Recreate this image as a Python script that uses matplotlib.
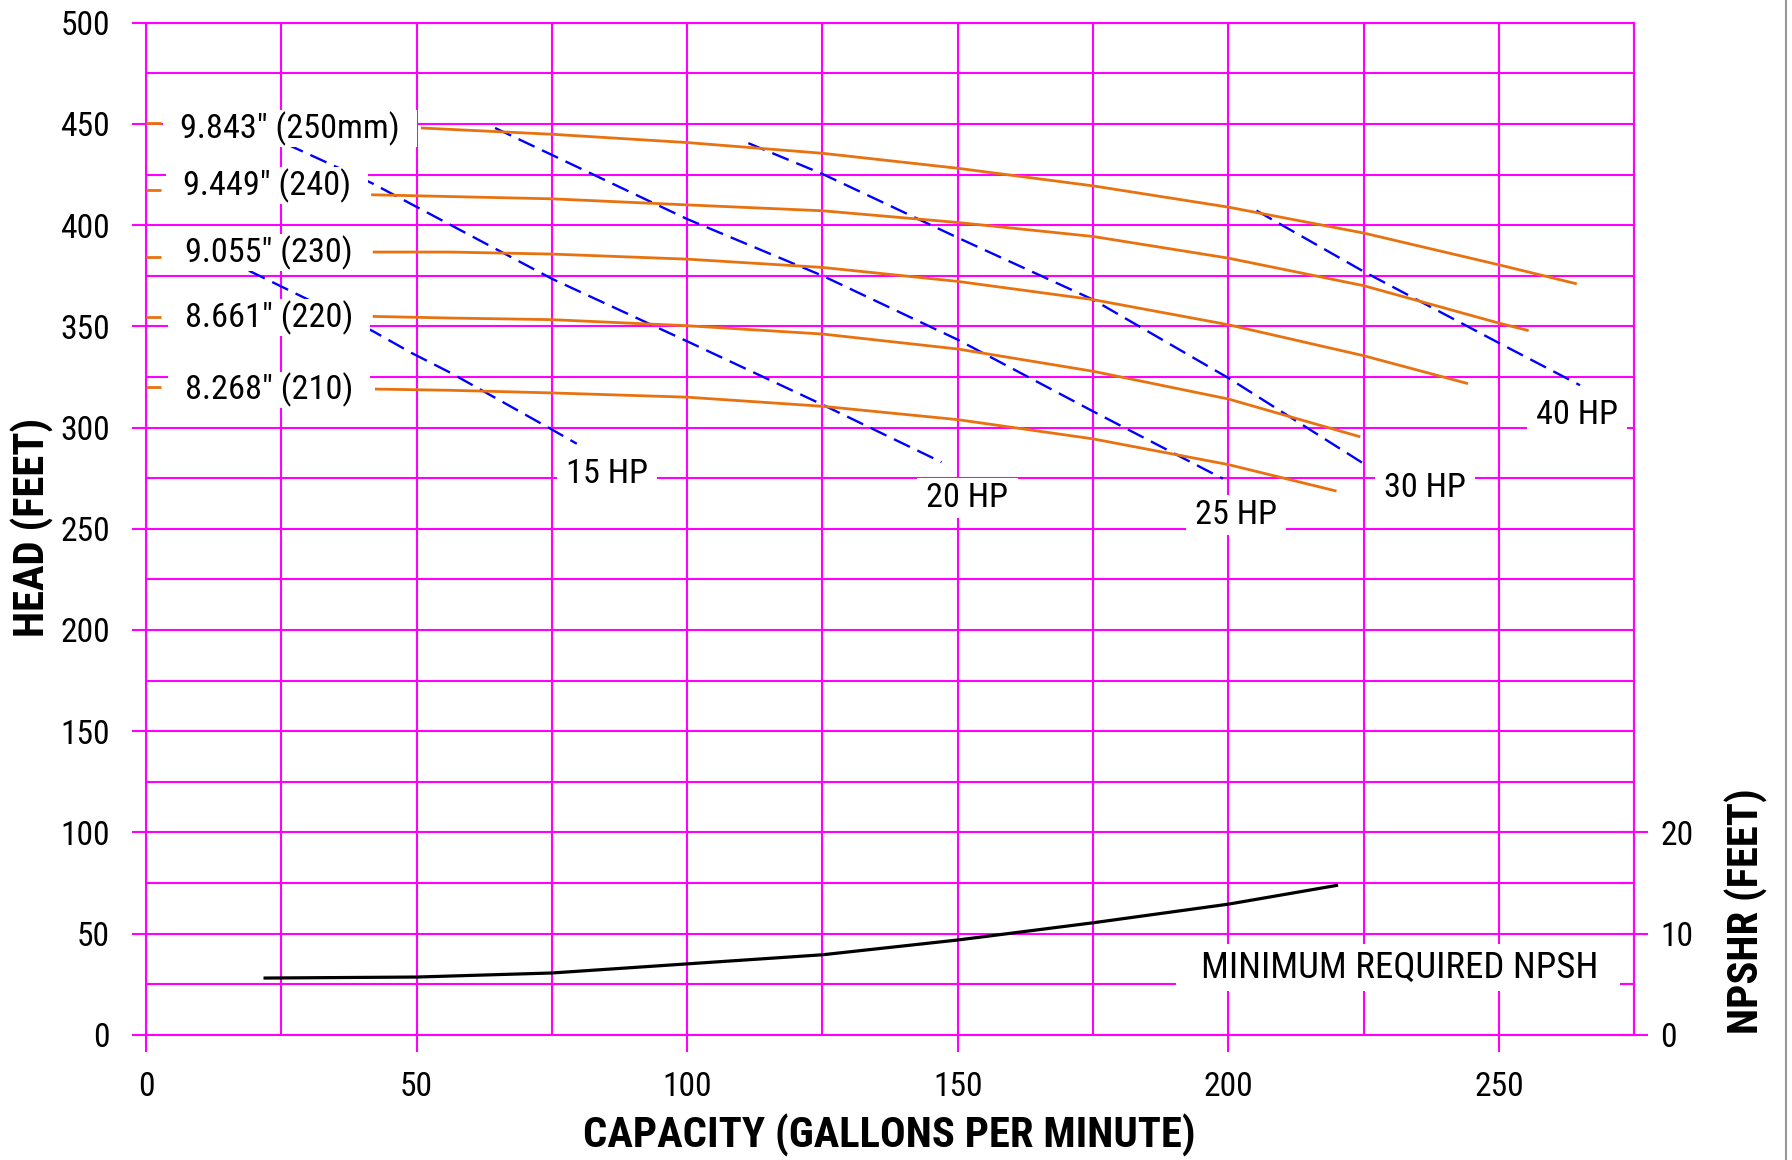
import os
import matplotlib
matplotlib.use("Agg")
import matplotlib.pyplot as plt
from matplotlib import font_manager as fm
from matplotlib.path import Path
from matplotlib.lines import Line2D

# ---------------- data ----------------
# Impeller head curves (capacity gpm -> head ft)
imp_labels = ['9.843" (250mm)', '9.449" (240)', '9.055" (230)', '8.661" (220)', '8.268" (210)']
q_250 = [50.8, 75, 100, 125, 150, 175, 200, 225, 250, 264.4]
h_250 = [448, 444.9, 440.8, 435.5, 428.1, 419.4, 408.9, 396.1, 380.4, 371]
q_240 = [41.6, 75, 100, 125, 150, 175, 200, 225, 250, 255.5]
h_240 = [415, 413, 410, 407.1, 401.3, 394.4, 383.7, 370.1, 351.6, 347.9]
q_230 = [41.9, 56.2, 75, 100, 125, 150, 175, 200, 225, 244.3]
h_230 = [386.7, 386.7, 385.7, 383.2, 379.1, 372.2, 363.2, 350.8, 335.5, 321.7]
q_220 = [41.9, 56.2, 75, 100, 125, 150, 175, 200, 224.4]
h_220 = [354.9, 354.1, 353.3, 350.3, 346.2, 338.8, 327.8, 314.1, 295.4]
q_210 = [42.3, 56.2, 75, 100, 125, 150, 175, 200, 220]
h_210 = [319, 318.4, 317.1, 315, 310.5, 303.9, 294.4, 281.7, 268.6]
# short key marks at the left axis
key_y = [450.5, 417.5, 384.5, 354.5, 320]

# Horsepower lines
hp_labels = ['15 HP', '20 HP', '25 HP', '30 HP', '40 HP']
q_15 = [19, 42, 49.1, 56.3, 75, 79.6]
h_15 = [377.5, 347.5, 336.8, 327, 299, 292]
q_20 = [26, 41.7, 75, 100, 125, 147]
h_20 = [440, 420.8, 373.5, 342.6, 311.3, 282.9]
q_25 = [64.5, 100, 125, 150, 175, 199]
h_25 = [448, 403, 375, 343.4, 308, 274.7]
q_30 = [111.3, 125, 150, 175, 200, 225]
h_30 = [440.5, 425.3, 393.8, 363.2, 324.5, 282.2]
q_40 = [205.2, 225, 250, 265]
h_40 = [407.2, 377.1, 341.8, 320.9]

# NPSHR curve (capacity gpm -> NPSHR ft)
q_npsh = [22, 50, 75, 100, 125, 150, 175, 200, 220]
npshr = [5.6, 5.7, 6.1, 7.0, 7.9, 9.36, 11.06, 12.9, 14.75]

x_ticks = [0, 50, 100, 150, 200, 250]
y_ticks = [0, 50, 100, 150, 200, 250, 300, 350, 400, 450, 500]
npsh_ticks = [0, 10, 20]

# ---------------- fonts ----------------
all_files = [f.fname for f in fm.fontManager.ttflist]


def find_font(must, bold):
    for p in all_files:
        b = os.path.basename(p).lower().replace(' ', '').replace('_', '').replace('-', '')
        if all(m in b for m in must) and 'italic' not in b and 'oblique' not in b:
            isbold = 'bold' in b
            if isbold == bold and 'light' not in b and 'black' not in b and 'semi' not in b \
                    and 'extra' not in b and 'medium' not in b and 'thin' not in b:
                return p
    return None


choices = [(['liberation', 'sans', 'narrow'], 1.0),
           (['roboto', 'condensed'], 0.93),
           (['opensans', 'condensed'], 0.9),
           (['dejavu', 'sans', 'condensed'], 0.86)]
REG = BOLD = None
SCALE = 0.88
for must, sc in choices:
    r = find_font(must, False)
    bd = find_font(must, True)
    if r:
        REG, BOLD, SCALE = r, (bd or r), sc
        break


def fp(size, bold=False):
    if REG:
        return fm.FontProperties(fname=(BOLD if bold else REG), size=size * SCALE)
    return fm.FontProperties(family=['Liberation Sans', 'DejaVu Sans'],
                             weight=('bold' if bold else 'normal'), size=size * SCALE)


# ---------------- style ----------------
MAG = '#FF00FF'
ORANGE = '#E8720F'
BLUE = '#0000FF'
FS = 26.5
TFS = 26
BFS = 33


def box_style(px, py):
    def f(x0, y0, width, height, mutation_size):
        dx = px * mutation_size
        dy = py * mutation_size
        return Path([(x0 - dx, y0 - dy), (x0 + width + dx, y0 - dy),
                     (x0 + width + dx, y0 + height + dy), (x0 - dx, y0 + height + dy),
                     (x0 - dx, y0 - dy)], closed=True)
    return f


fig = plt.figure(figsize=(17.92, 11.6), dpi=100)
ax = fig.add_axes([0.0815, 0.108, 0.8304, 0.8724])
ax.set_xlim(0, 275)
ax.set_ylim(0, 500)

ax.set_xticks(x_ticks)
ax.set_xticklabels([str(v) for v in x_ticks], fontproperties=fp(TFS))
ax.set_xticks(range(25, 276, 50), minor=True)
ax.set_yticks(y_ticks)
ax.set_yticklabels([str(v) for v in y_ticks], fontproperties=fp(TFS))
ax.set_yticks(range(25, 500, 50), minor=True)
ax.grid(which='both', color=MAG, lw=1.5, zorder=1)
ax.set_axisbelow(True)
for s in ax.spines.values():
    s.set_color(MAG)
    s.set_linewidth(1.5)
ax.tick_params(axis='x', which='major', length=12, width=1.5, color=MAG,
               direction='out', pad=14)
ax.tick_params(axis='y', which='major', length=10, width=1.5, color=MAG,
               direction='out', pad=16)
ax.tick_params(which='minor', length=0)

# impeller curves
imp_q = [q_250, q_240, q_230, q_220, q_210]
imp_h = [h_250, h_240, h_230, h_220, h_210]
for q, h in zip(imp_q, imp_h):
    ax.plot(q, h, color=ORANGE, lw=2.0, zorder=3, solid_capstyle='butt')
for ky in key_y:
    ax.plot([0, 2.7], [ky, ky], color=ORANGE, lw=2.0, zorder=6, solid_capstyle='butt')

# HP lines
hp_q = [q_15, q_20, q_25, q_30, q_40]
hp_h = [h_15, h_20, h_25, h_30, h_40]
for q, h in zip(hp_q, hp_h):
    ax.plot(q, h, color=BLUE, lw=1.7, ls=(0, (7.5, 3.5)), zorder=2.5)

# impeller labels
imp_tx = [6.3, 6.8, 7.2, 7.2, 7.2]
imp_ty = [449.5, 421.3, 388.3, 356.2, 320.4]
for lab, tx, ty in zip(imp_labels, imp_tx, imp_ty):
    ax.text(tx, ty - 1.8, lab, fontproperties=fp(FS), ha='left', va='center', zorder=5,
            bbox=dict(boxstyle=box_style(0.5, 0.03), fc='white', ec='none'))

# HP labels
hp_tx = [85.2, 151.8, 201.4, 236.3, 264.4]
hp_ty = [278.8, 266.9, 258.5, 271.8, 307.8]
for lab, tx, ty in zip(hp_labels, hp_tx, hp_ty):
    ax.text(tx, ty - 1.8, lab, fontproperties=fp(FS), ha='center', va='center', zorder=5,
            bbox=dict(boxstyle=box_style(0.27, 0.12), fc='white', ec='none'))

ax.text(231.6, 34.8 - 1.8, 'MINIMUM REQUIRED NPSH', fontproperties=fp(28.6), ha='center',
        va='center', zorder=5,
        bbox=dict(boxstyle=box_style(0.66, 0.15), fc='white', ec='none'))

# right axis NPSHR
ax2 = ax.twinx()
ax2.set_ylim(0, 100)
ax2.set_yticks(npsh_ticks)
ax2.set_yticklabels([str(v) for v in npsh_ticks], fontproperties=fp(TFS))
ax2.set_yticks([5, 15], minor=True)
for s in ax2.spines.values():
    s.set_visible(False)
ax2.tick_params(axis='y', which='major', length=20, width=1.5, color=MAG,
                direction='inout', pad=9)
ax2.tick_params(axis='y', which='minor', length=10, width=1.5, color=MAG,
                direction='in')
ax2.plot(q_npsh, npshr, color='black', lw=2.3, zorder=4)

# axis titles
fig.text(0.496, 0.0216, 'CAPACITY (GALLONS PER MINUTE)', fontproperties=fp(BFS, True),
         ha='center', va='center')
fig.text(0.0179, 0.545, 'HEAD (FEET)', fontproperties=fp(BFS, True),
         ha='center', va='center', rotation=90)
fig.text(0.9744, 0.2147, 'NPSHR (FEET)', fontproperties=fp(BFS, True),
         ha='center', va='center', rotation=90)

fig.add_artist(Line2D([0.9965, 0.9965], [0, 1], transform=fig.transFigure,
                      color='#999999', lw=1.5))

fig.savefig('out.png', dpi=100, facecolor='white')
